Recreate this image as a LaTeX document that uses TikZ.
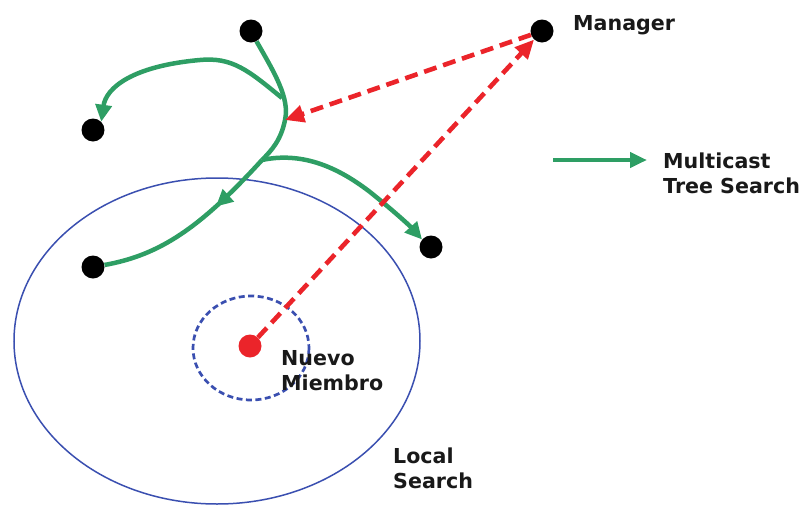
\documentclass[tikz,border=0pt]{standalone}
\usepackage{fontspec}
\setmainfont{DejaVu Sans}
\usetikzlibrary{arrows.meta,decorations.markings}
\definecolor{tgreen}{RGB}{46,158,100}
\definecolor{tred}{RGB}{235,36,42}
\definecolor{tblue}{RGB}{58,79,176}
\tikzset{
  dot/.style={circle,fill=black,inner sep=0pt,minimum width=23pt,minimum height=21pt},
  reddot/.style={circle,fill=tred,inner sep=0pt,minimum width=23pt,minimum height=21pt},
  greenline/.style={draw=tgreen,line width=4.5pt},
  gtip/.style={-{Triangle[length=17pt,width=16pt]}},
  redline/.style={draw=tred,line width=4.6pt,dash pattern=on 13pt off 7pt,-{Triangle[length=19pt,width=17pt]}},
  lbl/.style={font=\bfseries\fontsize{20.6}{25}\selectfont,text=black!90,anchor=base west,inner sep=0pt,align=left},
  midarrow/.style={postaction={decorate},decoration={markings,mark=at position #1 with {\arrow{Triangle[length=17pt,width=16pt]}}}}
}
\begin{document}
\begin{tikzpicture}[x=1pt,y=-1pt]
\useasboundingbox (0,0) rectangle (807,512);
% circles
\draw[tblue,line width=1.5pt] (217,341) ellipse [x radius=203, y radius=163];
\draw[tblue,line width=2.7pt,dash pattern=on 6pt off 3.5pt] (251,348) ellipse [x radius=58, y radius=52];
% nodes
\node[dot] (top) at (251,31) {};
\node[dot] (l) at (93,130) {};
\node[dot] (lb) at (93,267) {};
\node[dot] (r) at (431,247) {};
\node[dot] (mgr) at (542,31) {};
\node[reddot] (nm) at (250,346) {};
% junctions on the tree
\coordinate (j1) at (282,98);
\coordinate (j0) at (285,120);
\coordinate (j2) at (262,160);
% green tree
\draw[greenline] (top.-62) .. controls (274,72) and (290,98) .. (j0) .. controls (281,140) and (272,150) .. (j2);
\draw[greenline,midarrow=0.34] (j2) .. controls (200,228) and (160,255) .. (lb.10);
\draw[greenline,gtip] (j1) .. controls (248,70) and (232,57) .. (200,60) .. controls (132,66) and (106,88) .. (l.45);
\draw[greenline,gtip] (j2) .. controls (300,152) and (335,165) .. (370,192) .. controls (395,212) and (410,226) .. (r.140);
% red dashed
\draw[redline] (nm) -- (mgr);
\draw[redline] (mgr) -- (j0);
% labels
\node[lbl] (tm) at (573,30) {Manager};
\node[lbl] (tn) at (281,390) {Nuevo\\Miembro};
\node[lbl] (tl) at (393,488) {Local\\Search};
% legend
\coordinate (lg1) at (553,160);
\coordinate (lg2) at (647,160);
\draw[greenline,-{Triangle[length=17pt,width=15pt]}] (lg1) -- (lg2);
\node[lbl] (tt) at (663,193) {Multicast\\Tree Search};
\end{tikzpicture}
\end{document}
